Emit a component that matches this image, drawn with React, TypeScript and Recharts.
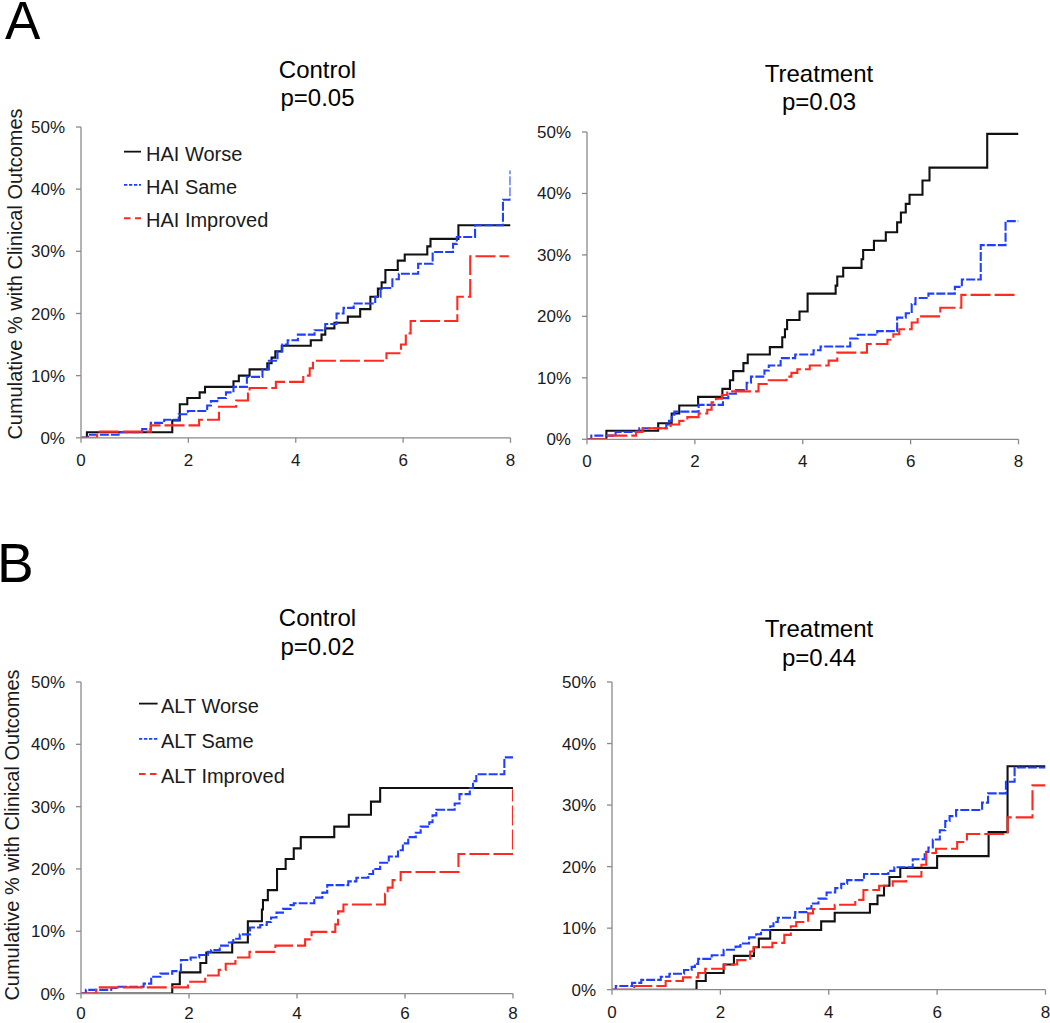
import { Legend, Line, LineChart, XAxis, YAxis } from "recharts";

type Point = [number, number];

const FONT = "'Liberation Sans', Arial, Helvetica, sans-serif";
const AXIS_COLOR = "#8a8a8a";
const TEXT_COLOR = "#1a1a1a";

const X_TICKS = [0, 2, 4, 6, 8];
const Y_TICKS = [0, 10, 20, 30, 40, 50];

// panel A, control arm: [time, cumulative %]
const haiWorseControl: Point[] = [
  [0, 0], [0.11, 0.9], [1.7, 2.8], [1.84, 5.4], [1.98, 6.4], [2.21, 7.3], [2.31, 8.2], [2.84, 9.1],
  [2.94, 10.0], [3.14, 11.0], [3.47, 12.0], [3.55, 12.9], [3.62, 13.9], [3.74, 14.8], [4.28, 15.7],
  [4.48, 16.6], [4.55, 17.6], [4.72, 18.5], [4.97, 19.5], [5.2, 20.7], [5.39, 22.7], [5.53, 24.0],
  [5.6, 25.0], [5.67, 27.0], [5.9, 28.5], [6.03, 29.5], [6.45, 30.8], [6.51, 32.0], [7.03, 34.2], [8, 34.2],
];
const haiSameControl: Point[] = [
  [0, 0], [0.13, 0.5], [0.7, 0.9], [1.14, 1.4], [1.3, 2.4], [1.55, 2.9], [1.82, 3.8], [1.99, 4.3],
  [2.35, 5.2], [2.42, 5.9], [2.56, 6.4], [2.7, 7.3], [2.84, 8.2], [3.09, 9.8], [3.38, 11.0], [3.5, 12.4],
  [3.66, 13.9], [3.75, 15.0], [3.85, 15.7], [4.04, 16.6], [4.35, 17.3], [4.55, 18.3], [4.76, 20.0],
  [4.89, 20.9], [5.08, 21.6], [5.48, 22.7], [5.58, 24.1], [5.8, 25.5], [5.92, 26.4], [6.28, 28.0],
  [6.55, 29.9], [6.93, 31.2], [7.0, 32.3], [7.34, 34.2], [7.86, 38.3], [8, 43.0],
];
const haiImprovedControl: Point[] = [
  [0, 0], [0.3, 1.0], [1.3, 2.0], [2.2, 2.9], [2.57, 5.0], [2.89, 6.0], [3.11, 7.1], [3.14, 8.0],
  [3.63, 9.0], [4.14, 10.0], [4.26, 11.2], [4.32, 12.4], [5.69, 13.6], [5.96, 15.0], [6.05, 16.8],
  [6.14, 18.8], [7.01, 22.7], [7.25, 29.2], [7.97, 29.2],
];

// panel A, treatment arm
const haiWorseTreatment: Point[] = [
  [0, 0], [0.36, 1.4], [1.32, 2.6], [1.57, 4.2], [1.71, 5.5], [2.06, 6.9], [2.51, 8.2], [2.65, 9.6],
  [2.71, 11.1], [2.9, 12.4], [2.98, 13.8], [3.39, 15.0], [3.62, 16.6], [3.67, 17.9], [3.71, 19.4],
  [3.94, 20.8], [4.09, 23.7], [4.61, 25.0], [4.64, 26.5], [4.75, 27.9], [5.09, 29.3], [5.12, 30.8],
  [5.32, 32.3], [5.54, 33.7], [5.75, 35.3], [5.82, 36.9], [5.91, 38.3], [5.98, 39.8], [6.22, 42.1],
  [6.35, 44.2], [7.42, 49.7], [8, 49.7],
];
const haiSameTreatment: Point[] = [
  [0, 0], [0.08, 0.6], [0.53, 1.2], [0.97, 1.8], [1.47, 2.4], [1.52, 3.0], [1.57, 4.0], [1.62, 4.5],
  [2.07, 5.6], [2.52, 6.7], [2.62, 7.4], [2.76, 8.0], [2.96, 9.2], [3.04, 10.2], [3.29, 11.2],
  [3.37, 12.0], [3.59, 13.2], [3.86, 13.8], [4.2, 14.5], [4.33, 15.1], [4.88, 16.4], [5.02, 17.0],
  [5.38, 17.6], [5.75, 19.8], [5.91, 20.5], [6.02, 22.0], [6.09, 23.0], [6.33, 23.7], [6.82, 24.8],
  [6.95, 26.0], [7.3, 31.6], [7.76, 35.5], [8, 35.5],
];
const haiImprovedTreatment: Point[] = [
  [0, 0], [0.39, 0.6], [0.91, 1.2], [1.03, 1.8], [1.55, 2.4], [1.71, 3.0], [1.86, 3.6], [2.07, 4.2],
  [2.23, 4.8], [2.31, 6.0], [2.39, 6.6], [2.5, 7.2], [2.6, 7.8], [3.18, 9.0], [3.37, 9.6], [3.7, 10.2],
  [3.79, 10.8], [3.9, 11.4], [4.13, 12.0], [4.48, 12.8], [4.64, 14.1], [5.19, 15.5], [5.57, 16.2],
  [5.68, 17.1], [5.79, 17.9], [6.02, 19.0], [6.13, 20.0], [6.55, 21.4], [6.94, 23.5], [7.96, 23.5],
];

// panel B, control arm
const altWorseControl: Point[] = [
  [0, 0], [1.69, 1.5], [1.83, 3.4], [2.21, 4.9], [2.32, 6.6], [2.8, 8.2], [3.09, 11.6], [3.35, 13.5],
  [3.37, 15.0], [3.46, 16.6], [3.63, 20.0], [3.79, 21.6], [3.94, 23.3], [4.07, 25.1], [4.69, 26.8],
  [4.96, 28.7], [5.37, 30.8], [5.54, 33.0], [8, 33.0],
];
const altSameControl: Point[] = [
  [0, 0], [0.09, 0.6], [0.56, 0.9], [0.69, 1.1], [1.16, 1.6], [1.3, 2.7], [1.47, 3.2], [1.69, 3.6],
  [1.85, 5.4], [2.03, 5.8], [2.19, 6.2], [2.35, 6.7], [2.41, 7.0], [2.57, 7.7], [2.72, 8.2], [2.82, 8.8],
  [2.94, 9.5], [3.13, 10.6], [3.32, 11.0], [3.44, 11.5], [3.52, 12.2], [3.62, 13.0], [3.74, 13.6],
  [3.88, 14.2], [3.94, 14.5], [4.32, 15.4], [4.47, 16.2], [4.56, 17.4], [4.95, 18.0], [5.1, 18.6],
  [5.32, 19.2], [5.41, 20.0], [5.54, 21.0], [5.7, 22.0], [5.87, 23.0], [5.96, 24.1], [6.06, 25.1],
  [6.2, 25.8], [6.29, 26.8], [6.45, 27.5], [6.51, 28.6], [6.58, 29.5], [6.92, 30.5], [7.01, 32.0],
  [7.2, 33.0], [7.26, 34.1], [7.32, 35.2], [7.84, 37.9], [8, 37.9],
];
const altImprovedControl: Point[] = [
  [0, 0], [0.28, 1.0], [1.98, 1.9], [2.3, 2.9], [2.55, 3.8], [2.68, 4.8], [2.86, 5.8], [3.12, 6.7],
  [3.6, 7.7], [4.15, 8.7], [4.27, 9.9], [4.71, 11.1], [4.76, 13.2], [4.86, 14.3], [5.63, 16.0],
  [5.68, 17.0], [5.77, 18.2], [5.92, 19.5], [6.99, 22.4], [8, 32.8],
];

// panel B, treatment arm
const altWorseTreatment: Point[] = [
  [0, 0], [1.56, 1.4], [1.73, 2.7], [2.06, 4.1], [2.25, 5.5], [2.62, 6.9], [2.71, 8.3], [2.92, 9.7],
  [3.86, 11.1], [4.11, 12.5], [4.76, 13.9], [4.9, 15.3], [5.02, 16.9], [5.12, 18.3], [5.32, 19.8],
  [6.0, 21.7], [6.95, 25.6], [7.3, 36.3], [8, 36.3],
];
const altSameTreatment: Point[] = [
  [0, 0], [0.07, 0.6], [0.37, 1.1], [0.54, 1.6], [0.9, 2.1], [1.06, 2.6], [1.33, 3.2], [1.47, 3.7],
  [1.53, 4.2], [1.59, 5.0], [1.84, 5.6], [2.06, 6.5], [2.28, 7.0], [2.37, 7.5], [2.53, 8.5], [2.66, 9.0],
  [2.75, 9.7], [2.92, 10.3], [2.98, 11.0], [3.06, 11.7], [3.38, 12.6], [3.6, 13.2], [3.68, 14.0],
  [3.81, 14.8], [3.96, 15.8], [4.12, 16.5], [4.23, 17.2], [4.34, 17.8], [4.65, 18.8], [5.1, 19.3],
  [5.21, 19.9], [5.55, 21.2], [5.77, 22.4], [5.84, 23.1], [5.92, 24.4], [6.05, 25.9], [6.15, 27.4],
  [6.23, 28.2], [6.35, 29.2], [6.83, 30.4], [6.94, 31.9], [7.27, 33.8], [7.43, 36.1], [8, 36.1],
];
const altImprovedTreatment: Point[] = [
  [0, 0], [0.41, 0.6], [0.99, 1.4], [1.31, 2.0], [1.59, 2.7], [1.72, 3.4], [2.07, 4.1], [2.31, 4.8],
  [2.55, 6.2], [2.61, 6.9], [2.96, 7.6], [3.18, 8.9], [3.3, 10.3], [3.4, 11.0], [3.62, 12.4],
  [3.71, 13.1], [4.11, 13.8], [4.49, 14.6], [4.64, 16.2], [4.93, 16.9], [5.18, 17.6], [5.43, 18.4],
  [5.71, 20.3], [5.8, 22.2], [5.98, 22.9], [6.37, 24.0], [6.55, 25.3], [7.3, 28.0], [7.76, 33.2], [8, 33.2],
];

type Kind = "worse" | "same" | "improved";

const STYLE: Record<Kind, { stroke: string; dash?: string; legendDash?: string }> = {
  worse: { stroke: "#111111" },
  same: { stroke: "#1f3fff", dash: "9 2", legendDash: "3.3 1.7" },
  improved: { stroke: "#ff2a1f", dash: "20 4", legendDash: "6.5 4.5" },
};

type Series = { name: string; kind: Kind; points: Point[] };
type Box = { left: number; right: number; top: number; bottom: number };
type LegendSpec = { x: number; y: number; rowGap: number; lineLen: number; textGap: number };

const Y_AXIS_W = 70;
const PAD_TOP = 10;
const PAD_RIGHT = 14;
const X_AXIS_H = 36;

const toRows = (points: Point[]) => points.map(([t, v]) => ({ t, v }));

function LegendBox({ series, spec }: { series: Series[]; spec: LegendSpec }) {
  return (
    <svg width={220} height={spec.rowGap * series.length} style={{ display: "block" }}>
      {series.map((s, i) => (
        <g key={s.name} transform={`translate(0, ${spec.rowGap * i + spec.rowGap / 2})`}>
          <line
            x1={0}
            x2={spec.lineLen}
            y1={-2}
            y2={-2}
            stroke={STYLE[s.kind].stroke}
            strokeWidth={1.8}
            strokeDasharray={STYLE[s.kind].legendDash}
          />
          <text
            x={spec.lineLen + spec.textGap}
            y={0}
            dy="0.355em"
            fontSize={20}
            fontFamily={FONT}
            fill={TEXT_COLOR}
          >
            {s.name}
          </text>
        </g>
      ))}
    </svg>
  );
}

function OutcomePanel({
  box,
  series,
  legend,
  xTickMargin = 11,
}: {
  box: Box;
  series: Series[];
  legend?: LegendSpec;
  xTickMargin?: number;
}) {
  const plotW = box.right - box.left;
  const plotH = box.bottom - box.top;
  const tickStyle = { fill: TEXT_COLOR, fontSize: 17, fontFamily: FONT };

  return (
    <div style={{ position: "absolute", left: box.left - Y_AXIS_W, top: box.top - PAD_TOP }}>
      <LineChart
        width={Y_AXIS_W + plotW + PAD_RIGHT}
        height={PAD_TOP + plotH + X_AXIS_H}
        margin={{ top: PAD_TOP, right: PAD_RIGHT, bottom: 0, left: 0 }}
      >
        <XAxis
          type="number"
          dataKey="t"
          domain={[0, 8]}
          ticks={X_TICKS}
          height={X_AXIS_H}
          stroke={AXIS_COLOR}
          strokeWidth={1.3}
          tickSize={5}
          tickMargin={xTickMargin}
          tick={tickStyle}
          allowDataOverflow
        />
        <YAxis
          type="number"
          domain={[0, 50]}
          ticks={Y_TICKS}
          width={Y_AXIS_W}
          stroke={AXIS_COLOR}
          strokeWidth={1.3}
          tickSize={5}
          tickMargin={11}
          tick={tickStyle}
          tickFormatter={(v) => `${v}%`}
          allowDataOverflow
        />
        {legend && (
          <Legend
            layout="vertical"
            align="center"
            verticalAlign="middle"
            wrapperStyle={{ left: legend.x, top: legend.y, width: 220 }}
            content={() => <LegendBox series={series} spec={legend} />}
          />
        )}
        {series.map((s) => (
          <Line
            key={s.name}
            data={toRows(s.points)}
            dataKey="v"
            name={s.name}
            type="stepAfter"
            stroke={STYLE[s.kind].stroke}
            strokeWidth={2.1}
            strokeDasharray={STYLE[s.kind].dash}
            dot={false}
            activeDot={false}
            isAnimationActive={false}
          />
        ))}
      </LineChart>
    </div>
  );
}

const haiControl: Series[] = [
  { name: "HAI Worse", kind: "worse", points: haiWorseControl },
  { name: "HAI Same", kind: "same", points: haiSameControl },
  { name: "HAI Improved", kind: "improved", points: haiImprovedControl },
];
const haiTreatment: Series[] = [
  { name: "HAI Worse", kind: "worse", points: haiWorseTreatment },
  { name: "HAI Same", kind: "same", points: haiSameTreatment },
  { name: "HAI Improved", kind: "improved", points: haiImprovedTreatment },
];
const altControl: Series[] = [
  { name: "ALT Worse", kind: "worse", points: altWorseControl },
  { name: "ALT Same", kind: "same", points: altSameControl },
  { name: "ALT Improved", kind: "improved", points: altImprovedControl },
];
const altTreatment: Series[] = [
  { name: "ALT Worse", kind: "worse", points: altWorseTreatment },
  { name: "ALT Same", kind: "same", points: altSameTreatment },
  { name: "ALT Improved", kind: "improved", points: altImprovedTreatment },
];

const Y_LABEL = "Cumulative % with Clinical Outcomes";

export default function App() {
  return (
    <div
      style={{
        position: "absolute",
        left: 0,
        top: 0,
        width: 1050,
        height: 1023,
        overflow: "hidden",
        background: "#ffffff",
        fontFamily: FONT,
      }}
    >
      <OutcomePanel
        box={{ left: 80.5, right: 510, top: 126.7, bottom: 437.5 }}
        series={haiControl}
        legend={{ x: 113, y: 20.7, rowGap: 33.3, lineLen: 17, textGap: 5 }}
      />
      <OutcomePanel box={{ left: 587, right: 1018.5, top: 132, bottom: 439.3 }} series={haiTreatment} />
      <OutcomePanel
        box={{ left: 81, right: 513, top: 681.7, bottom: 993.3 }}
        series={altControl}
        legend={{ x: 127.6, y: 16.4, rowGap: 35.2, lineLen: 18.6, textGap: 3.4 }}
        xTickMargin={8}
      />
      <OutcomePanel
        box={{ left: 611.5, right: 1045, top: 682.3, bottom: 990 }}
        series={altTreatment}
        xTickMargin={11}
      />

      <svg
        width={1050}
        height={1023}
        style={{ position: "absolute", left: 0, top: 0, pointerEvents: "none" }}
        fontFamily={FONT}
        fill="#000"
      >
        <text x={5} y={38.5} fontSize={53}>A</text>
        <text x={-3} y={581.7} fontSize={55}>B</text>

        <g fontSize={24} textAnchor="middle">
          <text x={317.5} y={77.7}>Control</text>
          <text x={317.5} y={106}>p=0.05</text>
          <text x={819} y={81.7}>Treatment</text>
          <text x={819} y={110}>p=0.03</text>
          <text x={317.5} y={625.7}>Control</text>
          <text x={317.5} y={655}>p=0.02</text>
          <text x={819} y={636.7}>Treatment</text>
          <text x={819} y={665.7}>p=0.44</text>
        </g>

        <g fontSize={20} textAnchor="middle" fill={TEXT_COLOR}>
          <text transform="translate(22, 274) rotate(-90)">{Y_LABEL}</text>
          <text transform="translate(18.6, 835) rotate(-90)">{Y_LABEL}</text>
        </g>
      </svg>
    </div>
  );
}
